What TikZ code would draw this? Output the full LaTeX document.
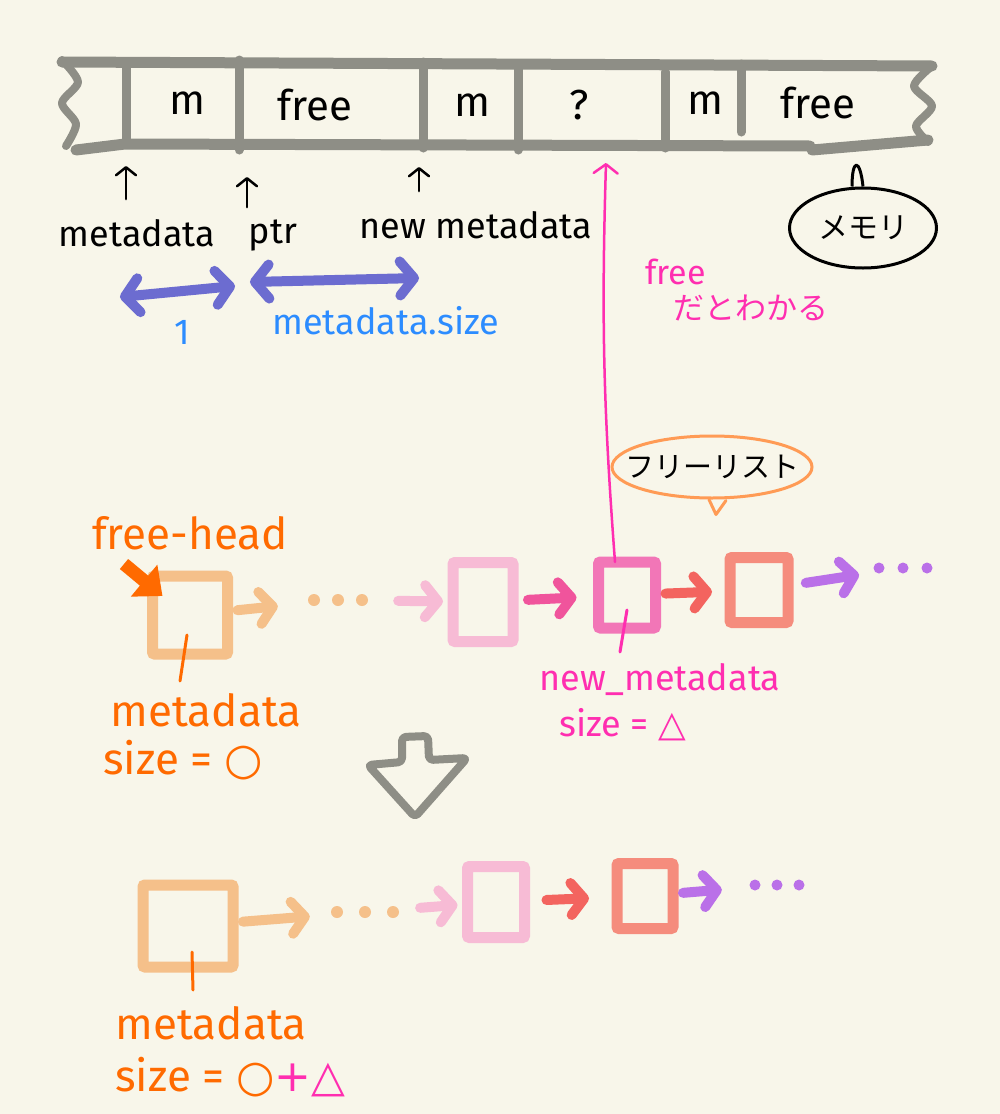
\documentclass[tikz,border=0pt]{standalone}
\usepackage{fontspec}
\setmainfont{Fira Sans}
\newfontfamily\jpfont{Noto Sans CJK JP}
\newfontfamily\symfont{DejaVu Sans}
\usetikzlibrary{arrows.meta, positioning, shapes.geometric}
\definecolor{mmBg}{RGB}{248,246,234}
\definecolor{mmGray}{RGB}{142,142,134}
\definecolor{mmBlue}{RGB}{108,108,208}
\definecolor{mmSky}{RGB}{44,140,255}
\definecolor{mmMag}{RGB}{255,46,176}
\definecolor{mmOrange}{RGB}{255,106,0}
\definecolor{mmPeach}{RGB}{245,192,138}
\definecolor{mmBlush}{RGB}{247,187,213}
\definecolor{mmPink}{RGB}{242,118,183}
\definecolor{mmPinkDeep}{RGB}{240,84,156}
\definecolor{mmSalmon}{RGB}{245,140,125}
\definecolor{mmRed}{RGB}{243,100,95}
\definecolor{mmPurple}{RGB}{186,112,232}
\definecolor{mmBubble}{RGB}{255,155,85}

\begin{document}
\begin{tikzpicture}[x=1pt, y=-1pt,
    lbl/.style={font=\fontsize{36}{40}\selectfont, inner sep=0pt},
    cell/.style={font=\fontsize{42}{46}\selectfont, inner sep=0pt},
    note/.style={font=\fontsize{44}{48}\selectfont, text=mmOrange, inner sep=0pt},
    jp/.style={font=\jpfont\fontsize{#1}{#1}\selectfont, inner sep=0pt},
    box/.style={draw=#1, line width=11pt, rounded corners=2pt, inner sep=0pt, outer sep=0pt},
    dotrow/.style={minimum width=#1, minimum height=10pt, inner sep=0pt},
    link/.style={draw=#1, line width=10pt, line cap=round, shorten <=10pt, shorten >=10pt,
                 -{Straight Barb[length=13pt, width=32pt, round]}},
    wall/.style={draw=mmGray, line width=11pt, line cap=round, line join=round},
    ptrup/.style={draw=black, line width=2.5pt, line cap=round,
                  -{Straight Barb[length=8pt, width=20pt, round]}},
    sizebar/.style={draw=mmBlue, line width=10pt, line cap=round,
                    {Straight Barb[length=14pt, width=34pt, round]}-{Straight Barb[length=14pt, width=34pt, round]}},
    leader/.style={draw=#1, line width=3pt, line cap=round}
  ]
  \useasboundingbox (0,0) rectangle (1000,1114);
  \fill[mmBg] (0,0) rectangle (1000,1114);

  % memory strip
  \draw[wall] (62,62) -- (932,66);
  \draw[wall] (76,150) -- (125,144) -- (810,146);
  \draw[wall] (812,150) -- (928,140);
  \draw[wall, line width=8pt] plot[smooth] coordinates {(62,60) (78,82) (62,103) (76,124) (66,146)};
  \draw[wall, line width=8pt] plot[smooth] coordinates {(932,66) (914,86) (932,106) (916,126) (928,142)};
  \foreach \x/\t/\b in {126/62/144, 239/60/150, 423/62/148, 518/68/150, 665/72/148, 741/64/132}
    \draw[wall, line width=9pt] (\x,\t) -- (\x,\b);
  \node[cell] (cM1) at (187,103) {m};
  \node[cell] (cF1) at (315,105) {free};
  \node[cell] (cM2) at (472,105) {m};
  \node[cell] (cQ)  at (579,105) {?};
  \node[cell] (cM3) at (705,103) {m};
  \node[cell] (cF2) at (818,103) {free};

  % pointers into the strip
  \node[lbl] (lMeta) at (137,233) {metadata};
  \node[lbl] (lPtr)  at (273,236) {ptr};
  \node[lbl] (lNew)  at (476,225) {new metadata};
  \coordinate (aMeta) at (126,166);
  \coordinate (aPtr)  at (247,177);
  \coordinate (aNew)  at (419,167);
  \draw[ptrup, shorten <=20pt] (lMeta.north -| aMeta) -- (aMeta);
  \draw[ptrup, shorten <=13pt] (lPtr.north -| aPtr) -- (aPtr);
  \draw[ptrup, shorten <=20pt] (lNew.north -| aNew) -- (aNew);

  % sizes
  \coordinate (bL1) at (120,297);
  \coordinate (bL2) at (235,286);
  \coordinate (bR1) at (250,282);
  \coordinate (bR2) at (419,278);
  \draw[sizebar] (bL1) -- (bL2);
  \draw[sizebar] (bR1) -- (bR2);
  \node[lbl, text=mmSky] (lOne)  at (182,332) {1};
  \node[lbl, text=mmSky] (lSize) at (386,321) {metadata.size};

  % memory bubble
  \node[ellipse, draw, line width=3pt, minimum width=147pt, minimum height=80pt,
        jp=30] (mem) at (863,228) {メモリ};
  \draw[line width=3pt, line join=round] ([xshift=-11pt]mem.north)
        .. controls (852,158) and (860,158) .. (mem.north);

  % free list bubble
  \node[ellipse, draw=mmBubble, line width=3pt, minimum width=200pt, minimum height=62pt,
        jp=29, inner xsep=-17pt] (fl) at (712,467) {フリーリスト};
  \draw[draw=mmBubble, line width=3pt, line join=round, line cap=round]
        ([xshift=-3pt]fl.south) -- ++(7,15) -- ++(10,-14);

  % first free list
  \node[box=mmPeach, minimum width=75pt, minimum height=78pt] (hA) at (190,615) {};
  \node[dotrow=100pt] (dA) at (338,600) {};
  \node[box=mmBlush, minimum width=60pt, minimum height=79pt] (pA) at (483,602) {};
  \node[box=mmPink, minimum width=57pt, minimum height=66pt] (qA) at (627,595) {};
  \node[box=mmSalmon, minimum width=58pt, minimum height=65pt] (rA) at (759,590) {};
  \node[dotrow=100pt] (eA) at (903,568) {};
  \draw[link=mmPeach] (hA) -- (dA);
  \draw[link=mmBlush] (dA) -- (pA);
  \draw[link=mmPinkDeep, shorten <=15pt, shorten >=22pt] (pA) -- (qA);
  \draw[link=mmRed, shorten >=18pt] (qA) -- (rA);
  \draw[link=mmPurple, shorten <=18pt] (rA) -- (eA);
  \foreach \d in {-24,0,24} {
    \fill[mmPeach] ([xshift=\d pt]dA.center) circle (6pt);
    \fill[mmPurple] ([xshift=\d pt]eA.center) circle (5.5pt);
  }

  \node[note] (fh) at (190,533) {free-head};
  \coordinate (fhTail) at (124,564);
  \draw[mmOrange, line width=13pt, -{Triangle[length=24pt, width=40pt]}]
        (fhTail) -- ([xshift=10pt, yshift=-20pt]hA.north west);

  \draw[leader=mmOrange] (hA.south) ++(-3,-19) -- ++(-7,46);
  \node[note] (mdA) at (206,710) {metadata};
  \node[note, anchor=west] (szA) at (103,760) {size = {\symfont ○}};

  \draw[leader=mmMag] (qA.south) ++(0,-18) -- ++(-7,42);
  \node[lbl, text=mmMag] (nmA) at (660,680) {new\_metadata};
  \node[lbl, text=mmMag, anchor=west] (szP) at (559,725) {size = {\symfont △}};

  % qA is found free in the strip
  \coordinate (qTip) at (606,163);
  \draw[mmMag, line width=2.5pt, line cap=round, -{Straight Barb[length=9pt, width=24pt, round]}]
        ([xshift=-12pt]qA.north) to[bend left=3] (qTip);
  \node[lbl, text=mmMag, font=\fontsize{34}{38}\selectfont, anchor=west] (lFree) at (645,272) {free};
  \node[jp=31, text=mmMag, anchor=west] (lKnow) at (673,308) {だとわかる};

  % merge
  \draw[mmGray, line width=8pt, line join=round, rounded corners=4pt]
        (402,762) -- (402,737) -- (428,736) -- (429,760) -- (467,758) -- (415,817) -- (368,765) -- cycle;

  % second free list
  \node[box=mmPeach, minimum width=90pt, minimum height=82pt] (hB) at (188,926) {};
  \node[dotrow=90pt] (dB) at (365,912) {};
  \node[box=mmBlush, minimum width=57pt, minimum height=71pt] (pB) at (496,902) {};
  \node[box=mmSalmon, minimum width=56pt, minimum height=65pt] (rB) at (645,896) {};
  \node[dotrow=90pt] (eB) at (777,885) {};
  \draw[link=mmPeach] (hB) -- (dB);
  \draw[link=mmBlush] (dB) -- (pB);
  \draw[link=mmRed, shorten <=22pt, shorten >=28pt] (pB) -- (rB);
  \draw[link=mmPurple] (rB) -- (eB);
  \foreach \d in {-28,0,28}
    \fill[mmPeach] ([xshift=\d pt]dB.center) circle (6pt);
  \foreach \d in {-22,0,22}
    \fill[mmPurple] ([xshift=\d pt]eB.center) circle (5.5pt);

  \draw[leader=mmOrange] (hB.south) ++(4,-15) -- ++(1,38);
  \node[note] (mdB) at (211,1023) {metadata};
  \node[note, anchor=west] (szB) at (115,1077) {size = {\symfont ○\textcolor{mmMag}{+△}}};
\end{tikzpicture}
\end{document}
